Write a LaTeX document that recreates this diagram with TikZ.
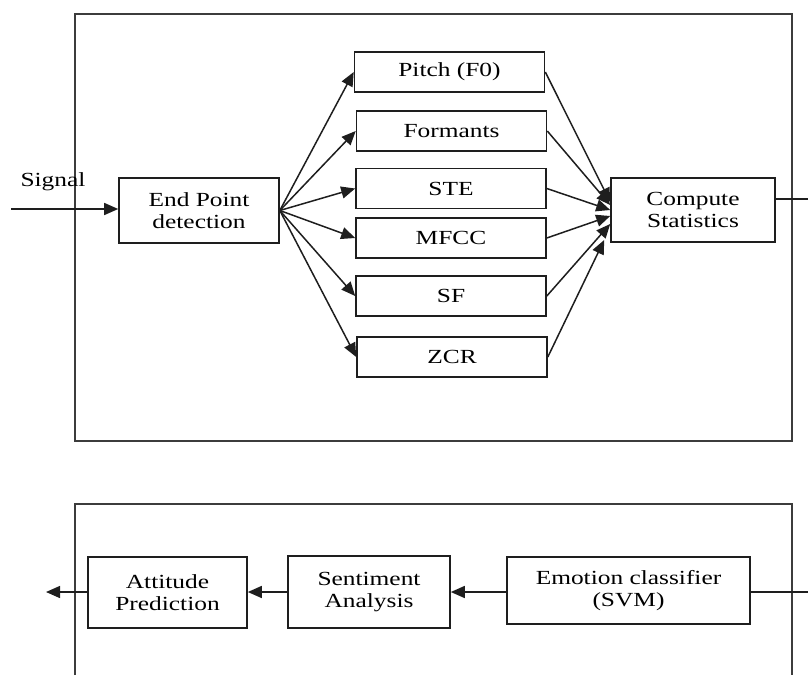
\documentclass[tikz,border=0pt]{standalone}
\usepackage{fontspec}
\setmainfont{Liberation Serif}[FakeStretch=1.27]
\usetikzlibrary{arrows.meta, positioning, calc}
\definecolor{cline}{HTML}{1E1E1E}
\definecolor{cframe}{HTML}{3C3C3C}
\tikzset{
  every picture/.style={x=1pt, y=1pt, font=\fontsize{20}{22}\selectfont, line width=1.5pt},
  box/.style={draw=cline, line width=1.6pt, align=center, inner sep=0pt, minimum width=#1},
  box/.default=190pt,
  feat/.style={box=190pt, minimum height=40pt},
  arrow/.style={-{Triangle[length=14pt, width=12pt]}, draw=cline},
  link/.style={draw=cline},
  frame/.style={draw=cframe, line width=2pt},
}

\begin{document}
\begin{tikzpicture}
  \useasboundingbox (0,0) rectangle (808,-675);
  \draw[frame] (75,-14) rectangle (792,-441);
  \draw[frame] (75,-675) -- (75,-504) -- (792,-504) -- (792,-675);

  \node (signal) at (53,-182) {Signal};
  \coordinate (sin) at (11,-209);
  \node[box=160pt, minimum height=65pt] (endpt) at (199,-210.5) {End Point\\detection};

  \node[feat] (pitch) at (449.5,-72) {Pitch (F0)};
  \node[feat] (formants) at (451.5,-131) {Formants};
  \node[feat] (ste) at (451,-188.5) {STE};
  \node[feat] (mfcc) at (451,-238) {MFCC};
  \node[feat] (sf) at (451,-296) {SF};
  \node[feat] (zcr) at (452,-357) {ZCR};

  \node[box=164pt, minimum height=64pt] (compute) at (693,-210) {Compute\\Statistics};
  \coordinate (cout) at (808,-199);

  \node[box=243pt, minimum height=67pt] (emotion) at (628.5,-590.5) {Emotion classifier\\(SVM)};
  \node[box=162pt, minimum height=72pt] (sentiment) at (369,-592) {Sentiment\\Analysis};
  \node[box=159pt, minimum height=71pt] (attitude) at (167.5,-592.5) {Attitude\\Prediction};
  \coordinate (ein) at (808,-592);
  \coordinate (aout) at (46,-592);

  \draw[arrow] (sin) -- (endpt.west |- sin);
  \foreach \f in {pitch, formants, ste, mfcc, sf, zcr}
    \draw[arrow] (endpt.east) -- (\f.west);

  \draw[arrow] (pitch.east) -- ([yshift=8pt]compute.west);
  \draw[arrow] (formants.east) -- ([yshift=5pt]compute.west);
  \draw[arrow] (ste.east) -- ([yshift=0pt]compute.west);
  \draw[arrow] (mfcc.east) -- ([yshift=-6pt]compute.west);
  \draw[arrow] (sf.east) -- ([yshift=-14pt]compute.west);
  \draw[arrow] (zcr.east) -- ([xshift=-6pt, yshift=-30pt]compute.west);
  \draw[link] (compute.east |- cout) -- (cout);

  \draw[link] (ein) -- (emotion.east |- ein);
  \draw[arrow] (emotion.west |- ein) -- (sentiment.east |- ein);
  \draw[arrow] (sentiment.west |- ein) -- (attitude.east |- ein);
  \draw[arrow] (attitude.west |- ein) -- (aout);
\end{tikzpicture}
\end{document}
